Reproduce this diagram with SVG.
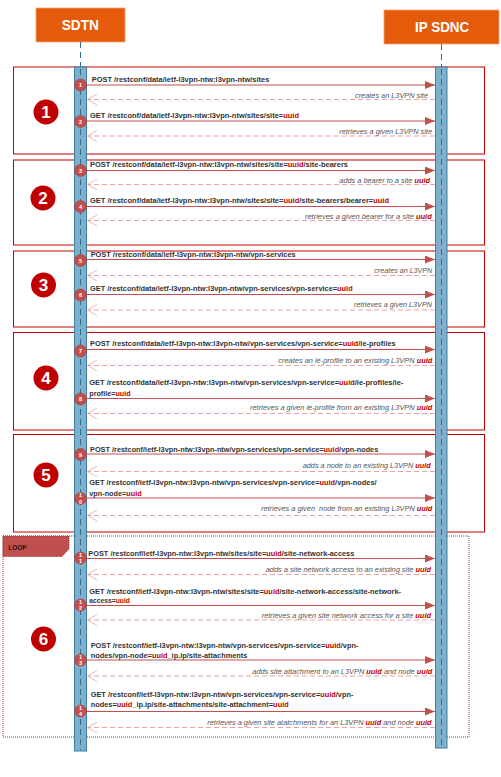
<svg xmlns="http://www.w3.org/2000/svg" width="501" height="777" viewBox="0 0 501 777">
<style>
.hdr{fill:#E45C0B;stroke:#F2A070;stroke-width:0.8}
.hdrt{font-family:"Liberation Sans",Arial,sans-serif;font-weight:bold;font-size:15px;fill:#fff}
.sec{fill:none;stroke:#C00000;stroke-width:1}
.big{fill:#C00000}
.bigt{font-family:"Liberation Sans",Arial,sans-serif;font-weight:bold;font-size:17px;fill:#fff;text-anchor:middle}
.bar{fill:#7EB0CB;stroke:#3F7FA3;stroke-width:1}
.life{stroke:#2F6E93;stroke-width:1;stroke-dasharray:6,4;fill:none}
.req{stroke:#C0504D;stroke-width:1.2;fill:none}
.ret{stroke:#E8A3A2;stroke-width:1;stroke-dasharray:5,3;fill:none}
.reth{stroke:#E8A3A2;stroke-width:0.8;fill:none}
.st{fill:#C0504D;stroke:#A83A38;stroke-width:0.6}
.stt{font-family:"Liberation Sans",Arial,sans-serif;font-weight:bold;font-size:5.5px;fill:#fff;text-anchor:middle}
.rq{font-family:"Liberation Sans",Arial,sans-serif;font-weight:bold;font-size:6.5px;fill:#333}
.rt{font-family:"Liberation Sans",Arial,sans-serif;font-style:italic;font-size:6.5px;fill:#555}
.u{fill:#C00000;font-weight:bold}
.loop{fill:none;stroke:#8E2A2A;stroke-width:0.9;stroke-dasharray:1,1}
.looplab{fill:#C0504D;stroke:#8E2A2A;stroke-width:0.9;stroke-dasharray:1,1}
.loopt{font-family:"Liberation Sans",Arial,sans-serif;font-weight:bold;font-size:6.5px;fill:#2a1010}
</style>
<defs>
<marker id="ah" markerWidth="10" markerHeight="8" refX="10" refY="4" orient="auto" markerUnits="userSpaceOnUse">
<path d="M0,0 L10,4 L0,8 Z" fill="#C0504D"/>
</marker>
</defs>
<rect width="501" height="777" fill="#fff"/>

<g id="frames">
<rect class="sec" x="13.5" y="67" width="471" height="87"/>
<rect class="sec" x="13.5" y="160" width="471" height="85"/>
<rect class="sec" x="13.5" y="251" width="471" height="76"/>
<rect class="sec" x="13.5" y="332.5" width="471" height="97.5"/>
<rect class="sec" x="13.5" y="434.5" width="471" height="97.5"/>
<rect class="loop" x="3" y="536" width="466" height="201"/>
<polygon class="looplab" points="3,536 69,536 69,549 62,556.5 3,556.5"/>
<text class="loopt" x="8.3" y="550" textLength="18.4" lengthAdjust="spacingAndGlyphs">LOOP</text>
</g>

<g id="phase-markers">
<circle class="big" cx="46" cy="112" r="12.5"/><text class="bigt" x="46" y="118">1</text>
<circle class="big" cx="43" cy="198" r="12.5"/><text class="bigt" x="43" y="204">2</text>
<circle class="big" cx="43.5" cy="285" r="12.5"/><text class="bigt" x="43.5" y="291">3</text>
<circle class="big" cx="46" cy="378" r="12.5"/><text class="bigt" x="46" y="384">4</text>
<circle class="big" cx="46" cy="475" r="12.5"/><text class="bigt" x="46" y="481">5</text>
<circle class="big" cx="43.5" cy="639" r="12.5"/><text class="bigt" x="43.5" y="645">6</text>
</g>

<g id="SDTN">
<rect class="hdr" x="36" y="8" width="89" height="34"/>
<text class="hdrt" x="61.7" y="30" textLength="37.3" lengthAdjust="spacingAndGlyphs">SDTN</text>
<line class="life" x1="80.5" y1="42" x2="80.5" y2="67"/>
<rect class="bar" x="74.5" y="67" width="12" height="684"/>
<line class="life" x1="80.5" y1="69" x2="80.5" y2="750"/>
</g>

<g id="IP-SDNC">
<rect class="hdr" x="384" y="10" width="115" height="34"/>
<text class="hdrt" x="415" y="32.3" textLength="54.3" lengthAdjust="spacingAndGlyphs">IP SDNC</text>
<line class="life" x1="441.5" y1="44" x2="441.5" y2="67"/>
<rect class="bar" x="435.5" y="67" width="11.5" height="681"/>
<line class="life" x1="441.5" y1="69" x2="441.5" y2="747"/>
</g>

<g id="connectors">
<line class="req" x1="80" y1="85" x2="435" y2="85" marker-end="url(#ah)"/>
<line class="ret" x1="435" y1="99.5" x2="88" y2="99.5"/><path class="reth" d="M97,94 L87.5,99.5 L97,105"/>
<line class="req" x1="80" y1="121" x2="435" y2="121" marker-end="url(#ah)"/>
<line class="ret" x1="435" y1="136" x2="88" y2="136"/><path class="reth" d="M97,130.5 L87.5,136 L97,141.5"/>

<line class="req" x1="80" y1="170.5" x2="435" y2="170.5" marker-end="url(#ah)"/>
<line class="ret" x1="435" y1="184.5" x2="88" y2="184.5"/><path class="reth" d="M97,179 L87.5,184.5 L97,190"/>
<line class="req" x1="80" y1="206.5" x2="435" y2="206.5" marker-end="url(#ah)"/>
<line class="ret" x1="435" y1="220.5" x2="88" y2="220.5"/><path class="reth" d="M97,215 L87.5,220.5 L97,226"/>

<line class="req" x1="80" y1="259.5" x2="435" y2="259.5" marker-end="url(#ah)"/>
<line class="ret" x1="435" y1="275.5" x2="88" y2="275.5"/><path class="reth" d="M97,270 L87.5,275.5 L97,281"/>
<line class="req" x1="80" y1="294.5" x2="435" y2="294.5" marker-end="url(#ah)"/>
<line class="ret" x1="435" y1="310" x2="88" y2="310"/><path class="reth" d="M97,304.5 L87.5,310 L97,315.5"/>

<line class="req" x1="80" y1="349.5" x2="435" y2="349.5" marker-end="url(#ah)"/>
<line class="ret" x1="435" y1="365.5" x2="88" y2="365.5"/><path class="reth" d="M97,360 L87.5,365.5 L97,371"/>
<line class="req" x1="80" y1="398.5" x2="435" y2="398.5" marker-end="url(#ah)"/>
<line class="ret" x1="435" y1="413.5" x2="88" y2="413.5"/><path class="reth" d="M97,408 L87.5,413.5 L97,419"/>

<line class="req" x1="80" y1="454" x2="435" y2="454" marker-end="url(#ah)"/>
<line class="ret" x1="435" y1="471.5" x2="88" y2="471.5"/><path class="reth" d="M97,466 L87.5,471.5 L97,477"/>
<line class="req" x1="80" y1="498" x2="435" y2="498" marker-end="url(#ah)"/>
<line class="ret" x1="435" y1="515.5" x2="88" y2="515.5"/><path class="reth" d="M97,510 L87.5,515.5 L97,521"/>

<line class="req" x1="80" y1="558.5" x2="435" y2="558.5" marker-end="url(#ah)"/>
<line class="ret" x1="435" y1="574.5" x2="88" y2="574.5"/><path class="reth" d="M97,569 L87.5,574.5 L97,580"/>
<line class="req" x1="80" y1="605.5" x2="435" y2="605.5" marker-end="url(#ah)"/>
<line class="ret" x1="435" y1="620" x2="88" y2="620"/><path class="reth" d="M97,614.5 L87.5,620 L97,625.5"/>
<line class="req" x1="80" y1="660" x2="435" y2="660" marker-end="url(#ah)"/>
<line class="ret" x1="435" y1="676" x2="88" y2="676"/><path class="reth" d="M97,670.5 L87.5,676 L97,681.5"/>
<line class="req" x1="80" y1="711.5" x2="435" y2="711.5" marker-end="url(#ah)"/>
<line class="ret" x1="435" y1="727.5" x2="88" y2="727.5"/><path class="reth" d="M97,722 L87.5,727.5 L97,733"/>
</g>

<g id="steps">
<circle class="st" cx="80.5" cy="85" r="6"/><text class="stt" x="80.5" y="87">1</text>
<circle class="st" cx="80.5" cy="121.5" r="6"/><text class="stt" x="80.5" y="123.5">2</text>
<circle class="st" cx="80.5" cy="170.5" r="6"/><text class="stt" x="80.5" y="172.5">3</text>
<circle class="st" cx="80.5" cy="206.5" r="6"/><text class="stt" x="80.5" y="208.5">4</text>
<circle class="st" cx="80.5" cy="260.5" r="6"/><text class="stt" x="80.5" y="262.5">5</text>
<circle class="st" cx="80.5" cy="295" r="6"/><text class="stt" x="80.5" y="297">6</text>
<circle class="st" cx="80.5" cy="351" r="6"/><text class="stt" x="80.5" y="353">7</text>
<circle class="st" cx="80.5" cy="399" r="6"/><text class="stt" x="80.5" y="401">8</text>
<circle class="st" cx="80.5" cy="454.5" r="6"/><text class="stt" x="80.5" y="456.5">9</text>
<circle class="st" cx="80.5" cy="498.5" r="6"/><text class="stt" x="80.5" y="497">1</text><text class="stt" x="80.5" y="503.5">0</text>
<circle class="st" cx="80.5" cy="558" r="6"/><text class="stt" x="80.5" y="556.7">1</text><text class="stt" x="80.5" y="562.5">1</text>
<circle class="st" cx="80.5" cy="605" r="6"/><text class="stt" x="80.5" y="603.7">1</text><text class="stt" x="80.5" y="609.5">2</text>
<circle class="st" cx="80.5" cy="660" r="6"/><text class="stt" x="80.5" y="658.7">1</text><text class="stt" x="80.5" y="664.5">3</text>
<circle class="st" cx="80.5" cy="711" r="6"/><text class="stt" x="80.5" y="709.7">1</text><text class="stt" x="80.5" y="715.5">4</text>
</g>

<g id="labels">
<text class="rq" x="91.7" y="81.7" textLength="177.6" lengthAdjust="spacingAndGlyphs">POST /restconf/data/ietf-l3vpn-ntw:l3vpn-ntw/sites</text>
<text class="rt" x="355" y="97.7" textLength="73" lengthAdjust="spacingAndGlyphs">creates an L3VPN site</text>
<text class="rq" x="90" y="117.7" textLength="209" lengthAdjust="spacingAndGlyphs">GET /restconf/data/ietf-l3vpn-ntw:l3vpn-ntw/sites/site=<tspan class="u">uuid</tspan></text>
<text class="rt" x="339.3" y="134" textLength="92.7" lengthAdjust="spacingAndGlyphs">retrieves a given L3VPN site</text>

<text class="rq" x="90" y="167.3" textLength="258" lengthAdjust="spacingAndGlyphs">POST /restconf/data/ietf-l3vpn-ntw:l3vpn-ntw/sites/site=<tspan class="u">uuid</tspan>/site-bearers</text>
<text class="rt" x="339.3" y="182.7" textLength="90.7" lengthAdjust="spacingAndGlyphs">adds a bearer to a site <tspan class="u">uuid</tspan></text>
<text class="rq" x="90" y="202.7" textLength="299" lengthAdjust="spacingAndGlyphs">GET /restconf/data/ietf-l3vpn-ntw:l3vpn-ntw/sites/site=<tspan class="u">uuid</tspan>/site-bearers/bearer=<tspan class="u">uuid</tspan></text>
<text class="rt" x="305" y="218.7" textLength="126.7" lengthAdjust="spacingAndGlyphs">retrieves a given bearer for a site <tspan class="u">uuid</tspan></text>

<text class="rq" x="90.7" y="256.7" textLength="205" lengthAdjust="spacingAndGlyphs">POST /restconf/data/ietf-l3vpn-ntw:l3vpn-ntw/vpn-services</text>
<text class="rt" x="374.3" y="273.3" textLength="58" lengthAdjust="spacingAndGlyphs">creates an L3VPN</text>
<text class="rq" x="90" y="291" textLength="262.7" lengthAdjust="spacingAndGlyphs">GET /restconf/data/ietf-l3vpn-ntw:l3vpn-ntw/vpn-services/vpn-service=<tspan class="u">uuid</tspan></text>
<text class="rt" x="354" y="307.3" textLength="78" lengthAdjust="spacingAndGlyphs">retrieves a given L3VPN</text>

<text class="rq" x="90" y="346.3" textLength="305.7" lengthAdjust="spacingAndGlyphs">POST /restconf/data/ietf-l3vpn-ntw:l3vpn-ntw/vpn-services/vpn-service=<tspan class="u">uuid</tspan>/ie-profiles</text>
<text class="rt" x="278.3" y="363" textLength="154" lengthAdjust="spacingAndGlyphs">creates an ie-profile to an existing L3VPN <tspan class="u">uuid</tspan></text>
<text class="rq" x="89.3" y="385.3" textLength="314" lengthAdjust="spacingAndGlyphs">GET /restconf/data/ietf-l3vpn-ntw:l3vpn-ntw/vpn-services/vpn-service=<tspan class="u">uuid</tspan>/ie-profiles/ie-</text>
<text class="rq" x="89.3" y="395.7" textLength="41.3" lengthAdjust="spacingAndGlyphs">profile=<tspan class="u">uuid</tspan></text>
<text class="rt" x="250" y="410.3" textLength="182.3" lengthAdjust="spacingAndGlyphs">retrieves a given ie-profile from an existing L3VPN <tspan class="u">uuid</tspan></text>

<text class="rq" x="90" y="452.3" textLength="288.3" lengthAdjust="spacingAndGlyphs">POST /restconf/ietf-l3vpn-ntw:l3vpn-ntw/vpn-services/vpn-service=<tspan class="u">uuid</tspan>/vpn-nodes</text>
<text class="rt" x="302.7" y="468.3" textLength="128" lengthAdjust="spacingAndGlyphs">adds a node to an existing L3VPN <tspan class="u">uuid</tspan></text>
<text class="rq" x="89.3" y="485.3" textLength="287.3" lengthAdjust="spacingAndGlyphs">GET /restconf/ietf-l3vpn-ntw:l3vpn-ntw/vpn-services/vpn-service=<tspan class="u">uuid</tspan>/vpn-nodes/</text>
<text class="rq" x="89.3" y="495.7" textLength="52.3" lengthAdjust="spacingAndGlyphs">vpn-node=<tspan class="u">uuid</tspan></text>
<text class="rt" x="261" y="510.7" textLength="171.3" lengthAdjust="spacingAndGlyphs" xml:space="preserve">retrieves a given  node from an existing L3VPN <tspan class="u">uuid</tspan></text>

<text class="rq" x="88.3" y="556" textLength="266" lengthAdjust="spacingAndGlyphs">POST /restconf/ietf-l3vpn-ntw:l3vpn-ntw/sites/site=<tspan class="u">uuid</tspan>/site-network-access</text>
<text class="rt" x="265.7" y="572" textLength="165.3" lengthAdjust="spacingAndGlyphs">adds a site network access to an existing site <tspan class="u">uuid</tspan></text>
<text class="rq" x="89.3" y="594" textLength="311.7" lengthAdjust="spacingAndGlyphs">GET /restconf/ietf-l3vpn-ntw:l3vpn-ntw/sites/site=<tspan class="u">uuid</tspan>/site-network-access/site-network-</text>
<text class="rq" x="89.3" y="603.3" textLength="40.7" lengthAdjust="spacingAndGlyphs">access=<tspan class="u">uuid</tspan></text>
<text class="rt" x="261.7" y="617.7" textLength="169.3" lengthAdjust="spacingAndGlyphs">retrieves a given site network access for a site <tspan class="u">uuid</tspan></text>

<text class="rq" x="90.7" y="648.3" textLength="267.7" lengthAdjust="spacingAndGlyphs">POST /restconf/ietf-l3vpn-ntw:l3vpn-ntw/vpn-services/vpn-service=<tspan class="u">uuid</tspan>/vpn-</text>
<text class="rq" x="90.7" y="657.7" textLength="156.7" lengthAdjust="spacingAndGlyphs">nodes/vpn-node=<tspan class="u">uuid</tspan>_ip.ip/site-attachments</text>
<text class="rt" x="252.3" y="673.7" textLength="180" lengthAdjust="spacingAndGlyphs">adds site attachment to an L3VPN <tspan class="u">uuid</tspan> and node <tspan class="u">uuid</tspan></text>

<text class="rq" x="90.7" y="697.3" textLength="262.7" lengthAdjust="spacingAndGlyphs">GET /restconf/ietf-l3vpn-ntw:l3vpn-ntw/vpn-services/vpn-service=<tspan class="u">uuid</tspan>/vpn-</text>
<text class="rq" x="90.7" y="706.7" textLength="198" lengthAdjust="spacingAndGlyphs">nodes=<tspan class="u">uuid</tspan>_ip.ip/site-attachments/site-attachment=<tspan class="u">uuid</tspan></text>
<text class="rt" x="207.3" y="725" textLength="224.3" lengthAdjust="spacingAndGlyphs">retrieves a given site atatchments for an L3VPN <tspan class="u">uuid</tspan> and node <tspan class="u">uuid</tspan></text>
</g>
</svg>
